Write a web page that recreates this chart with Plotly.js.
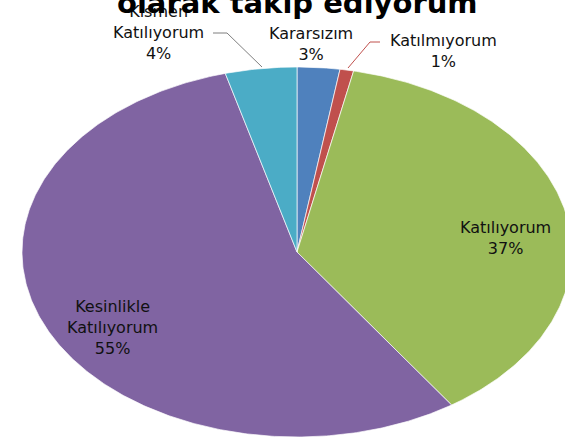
<!DOCTYPE html>
<html><head><meta charset="utf-8">
<script src="https://cdn.plot.ly/plotly-3.0.1.min.js"></script>
<style>html,body{margin:0;padding:0;background:#fff;}#c{width:565px;height:438px;}</style>
</head><body><div id="c"></div>
<script>
const categories = ["Kararsızım", "Katılmıyorum", "Katılıyorum", "Kesinlikle Katılıyorum", "Kısmen Katılıyorum"];
const values = [2.5, 0.8, 37.2, 55.3, 4.2];
const colors = ["#4F81BD", "#C0504D", "#9BBB59", "#8064A2", "#4BACC6"];
const labelLines = [["Kararsızım"], ["Katılmıyorum"], ["Katılıyorum"], ["Kesinlikle", "Katılıyorum"], ["Kısmen", "Katılıyorum"]];
const titleText = "olarak takip ediyorum";

// pie geometry (plot units = pixels)
const cx = 297, cy = 252, rx = 275, ry = 185;
const total = values.reduce((a, b) => a + b, 0);
const traces = [];
let cum = 0;
values.forEach((v, i) => {
  const a0 = cum / total * 2 * Math.PI;
  cum += v;
  const a1 = cum / total * 2 * Math.PI;
  const n = Math.max(4, Math.ceil((a1 - a0) / 0.01));
  const xs = [cx], ys = [cy];
  for (let k = 0; k <= n; k++) {
    const t = a0 + (a1 - a0) * k / n;
    xs.push(cx + rx * Math.sin(t));
    ys.push(cy - ry * Math.cos(t));
  }
  xs.push(cx); ys.push(cy);
  traces.push({
    type: "scatter", x: xs, y: ys, mode: "lines", fill: "toself",
    fillcolor: colors[i], line: {color: "rgba(255,255,255,0.85)", width: 0.8},
    name: categories[i], hoverinfo: "name", showlegend: false
  });
});

const pct = values.map(v => Math.round(v / total * 100) + "%");
const font = {family: "'DejaVu Sans', sans-serif", size: 16, color: "#111"};
// label centre positions
const labelPos = [[311, 44], [443, 51], [505, 238], [112, 327], [158, 32]];
const annotations = labelPos.map((p, i) => ({
  x: p[0], y: p[1], xref: "x", yref: "y", showarrow: false,
  text: labelLines[i].concat([pct[i]]).join("<br>"), font: font, align: "center",
  xanchor: "center", yanchor: "middle", borderpad: 0
}));
annotations.push({
  x: 297, y: 22, xref: "x", yref: "y", showarrow: false, text: "<b>" + titleText + "</b>",
  font: {family: "'DejaVu Sans', sans-serif", size: 29, color: "#000"},
  xanchor: "center", yanchor: "bottom"
});

const shapes = [
  {type: "path", xref: "x", yref: "y", path: "M380,42 L370,42 L348,68", line: {color: "#C0504D", width: 1}},
  {type: "path", xref: "x", yref: "y", path: "M213,33 L227,33 L262,67", line: {color: "#7f7f7f", width: 1}}
];

const layout = {
  width: 565, height: 438, margin: {l: 0, r: 0, t: 0, b: 0},
  paper_bgcolor: "#fff", plot_bgcolor: "#fff",
  xaxis: {range: [0, 565], visible: false, fixedrange: true},
  yaxis: {range: [438, 0], visible: false, fixedrange: true},
  annotations: annotations, shapes: shapes, showlegend: false
};
Plotly.newPlot("c", traces, layout, {staticPlot: true});
</script></body></html>
